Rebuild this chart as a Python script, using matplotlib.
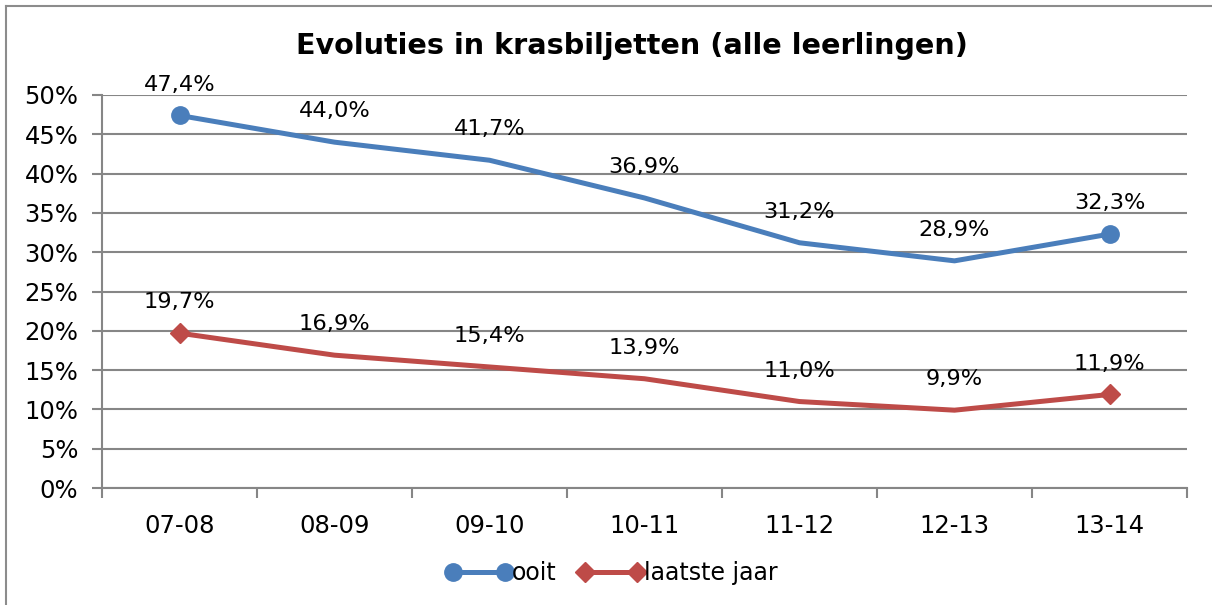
import matplotlib
matplotlib.use("Agg")
import matplotlib.pyplot as plt
from matplotlib.lines import Line2D
from matplotlib.ticker import MultipleLocator, FuncFormatter, FixedLocator

categories = ["07-08", "08-09", "09-10", "10-11", "11-12", "12-13", "13-14"]
ooit = [47.4, 44.0, 41.7, 36.9, 31.2, 28.9, 32.3]
laatste_jaar = [19.7, 16.9, 15.4, 13.9, 11.0, 9.9, 11.9]
title = "Evoluties in krasbiljetten (alle leerlingen)"

blue = "#4A7EBB"
red = "#BE4B48"
grid = "#868686"

plt.rcParams['font.family'] = ['DejaVu Sans']

fig = plt.figure(figsize=(12.12, 6.05), dpi=100)
ax = fig.add_axes([102/1212, 1-488/605, (1187-102)/1212, (488-95)/605])

x = list(range(len(categories)))
ax.plot(x, ooit, color=blue, lw=3.6, marker='o', markersize=12.5,
        markevery=[0, len(x)-1], label="ooit", solid_joinstyle='round', zorder=3)
ax.plot(x, laatste_jaar, color=red, lw=3.6, marker='D', markersize=10,
        markevery=[0, len(x)-1], label="laatste jaar", solid_joinstyle='round', zorder=3)

for series in (ooit, laatste_jaar):
    for xi, v in zip(x, series):
        ax.annotate(f"{v:.1f}%".replace('.', ','), (xi, v), xytext=(0, 15),
                    textcoords='offset points', ha='center', va='bottom', fontsize=16.2)

ax.set_xlim(-0.5, len(x)-0.5)
ax.set_ylim(0, 50)
ax.yaxis.set_major_locator(MultipleLocator(5))
ax.yaxis.set_major_formatter(FuncFormatter(lambda v, p: f"{v:.0f}%"))
ax.set_xticks(x)
ax.set_xticklabels(categories)
ax.xaxis.set_minor_locator(FixedLocator([i - 0.5 for i in range(len(x)+1)]))
ax.tick_params(axis='x', which='major', length=0, pad=19, labelsize=17.5)
ax.tick_params(axis='x', which='minor', length=7, width=1.5, color=grid, direction='out')
ax.tick_params(axis='y', which='major', length=7, width=1.5, color=grid, labelsize=17.5, pad=10)

ax.grid(axis='y', color=grid, lw=1.5)
ax.set_axisbelow(True)
for s in ['top', 'right']:
    ax.spines[s].set_visible(False)
for s in ['left', 'bottom']:
    ax.spines[s].set_color(grid)
    ax.spines[s].set_linewidth(1.5)

fig.text(632/1212, 1-46/605, title, ha='center', va='center', fontsize=20.6, fontweight='bold')

leg = fig.legend(loc='center', bbox_to_anchor=(612/1212, 1-573/605), ncol=2, frameon=False,
                 fontsize=17, numpoints=2, handlelength=2.8, handletextpad=0.0,
                 columnspacing=0.9)

fig.add_artist(Line2D([6/1212, 6/1212], [-0.1, 1-6/605], transform=fig.transFigure,
                      color="#8c8c8c", lw=1.5))
fig.add_artist(Line2D([6/1212, 1.1], [1-6/605, 1-6/605], transform=fig.transFigure,
                      color="#8c8c8c", lw=1.5))

fig.savefig("out.png", dpi=100)
